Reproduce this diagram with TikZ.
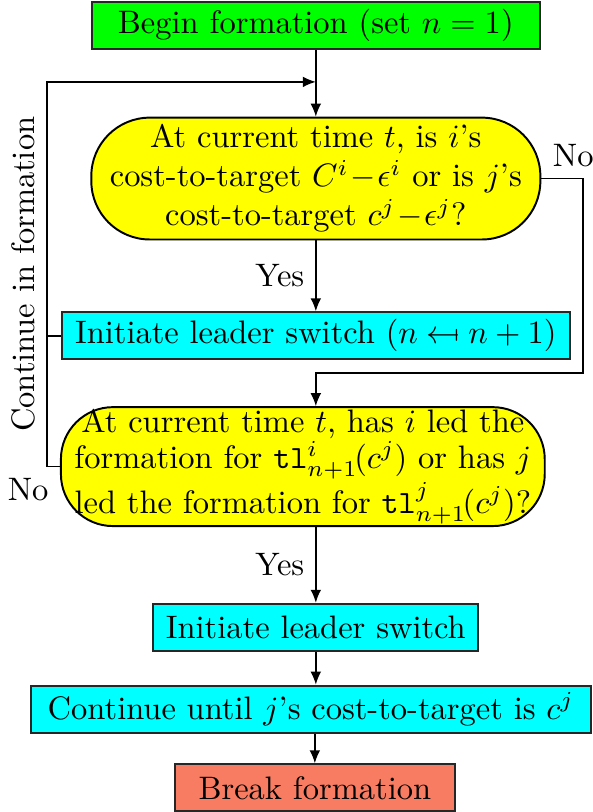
\documentclass[tikz,border=0pt]{standalone}
\usepackage{xcolor}
\usepackage{tikz}
\usetikzlibrary{arrows.meta, positioning}
\definecolor{startgreen}{HTML}{00FF00}
\definecolor{stepcyan}{HTML}{00FFFF}
\definecolor{askyellow}{HTML}{FFFF00}
\definecolor{stopred}{HTML}{F87C62}
\newcommand{\lmapsfrom}{\mathrel{\leftarrow\mkern-2.7mu\mapstochar\mkern2.7mu}}
\newcommand{\tmin}{\mkern1mu{-}\mkern1mu}
\newcommand{\tlfor}[1]{\mathtt{tl}^{#1}_{n+1}\mkern-2mu(c^j)}

\begin{document}
\begin{tikzpicture}[
  node distance=10pt,
  box/.style={rectangle, draw=black!85, line width=0.6pt, align=center, minimum height=14.5pt, inner xsep=3pt, inner ysep=2pt},
  startbox/.style={box, fill=startgreen},
  stepbox/.style={box, fill=stepcyan},
  stopbox/.style={box, fill=stopred},
  ask/.style={rectangle, rounded corners=18pt, draw=black, line width=0.6pt, fill=askyellow, align=center, inner xsep=0pt, inner ysep=0pt},
  arrow/.style={-{Latex[length=4pt, width=3.3pt]}, line width=0.45pt},
  line/.style={line width=0.45pt}
]
\useasboundingbox (0,0) rectangle (182.5pt,-249.9pt);

\node[startbox, minimum width=137.8pt] (begin) at (97.2pt,-7.85pt) {Begin formation (set $n=1$)};
\node[ask, below=20.5pt of begin, minimum width=138.2pt, minimum height=37.5pt] (costq) {At current time $t$, is $i$'s\\cost-to-target $C^i\tmin\epsilon^i$ or is $j$'s\\cost-to-target $c^j\tmin\epsilon^j$?};
\node[stepbox, below=21.8pt of costq, minimum width=156.3pt] (switchn) {Initiate leader switch ($n \lmapsfrom n+1$)};
\node[ask, below=14.1pt of switchn, xshift=-4pt, minimum width=148.9pt, minimum height=36.6pt, rounded corners=16pt, font={\fontsize{10}{11.2}\selectfont}] (ledq) {At current time $t$, has $i$ led the\\formation for $\tlfor{i}$ or has $j$\\led the formation for $\tlfor{j}$?};
\node[stepbox, below=23.3pt of ledq, xshift=4pt, minimum width=100pt] (switch) {Initiate leader switch};
\node[stepbox, below=10.1pt of switch, minimum width=172.3pt, xshift=-1.5pt] (until) {Continue until $j$'s cost-to-target is $c^j$};
\node[stopbox, below=9.1pt of until, minimum width=86.2pt, xshift=1.2pt] (break) {Break formation};

% loop corners
\coordinate (loopl) at (14.5pt,-25.2pt);
\coordinate (loopr) at (179.4pt,-114.8pt);

\draw[arrow] (begin) -- (costq);
\draw[arrow] (costq) -- node[left]{Yes} (switchn);
\draw[arrow] (costq.east) -- node[at start, above right]{No} (costq.east -| loopr) -- (loopr) -- (loopr -| switchn) -- (switchn |- ledq.north);
\draw[arrow] (ledq.south -| switch) -- node[left]{Yes} (switch);
\draw[arrow] (switch) -- (switch |- until.north);
\draw[arrow] (until.south -| break) -- (break);
\draw[arrow] (ledq.west) -- node[at start, below left]{No} (ledq.west -| loopl) -- node[midway, above, sloped]{Continue in formation} (loopl) -- (loopl -| begin);
\draw[line] (switchn.west) -- (switchn.west -| loopl);
\end{tikzpicture}
\end{document}
